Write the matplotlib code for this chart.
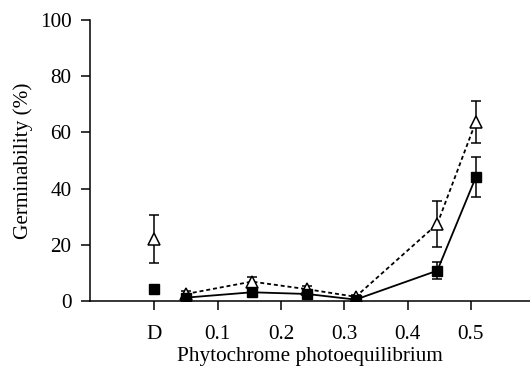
import matplotlib
matplotlib.use("Agg")
import matplotlib.pyplot as plt

plt.rcParams['font.family'] = ['Liberation Serif', 'DejaVu Serif']

# Data
dark_x = 0.0
dark_sq, dark_sq_err = 4.2, 0.0
dark_tri, dark_tri_err = 22.0, 8.5

pfr = [0.05, 0.154, 0.241, 0.318, 0.447, 0.508]
sq_vals = [1.2, 3.1, 2.5, 0.5, 10.8, 44.1]
sq_err = [0.5, 0.6, 1.2, 0.4, 3.0, 7.1]
tri_vals = [2.5, 6.9, 4.2, 1.5, 27.4, 63.8]
tri_err = [1.0, 1.8, 1.0, 0.6, 8.3, 7.5]

tick_pos = [0.0, 0.1, 0.2, 0.3, 0.4, 0.5]
tick_labels = ['D', '0.1', '0.2', '0.3', '0.4', '0.5']
y_ticks = [0, 20, 40, 60, 80, 100]

fig = plt.figure(figsize=(5.3, 3.66), dpi=100)
ax = fig.add_axes([0.17, 0.1776, 0.83, 0.7678])

# lines with error bars
ax.errorbar(pfr, tri_vals, yerr=tri_err, color='black', linestyle=(0, (2.2, 1.6)),
            linewidth=1.3, marker='^', markersize=8.5, markerfacecolor='white',
            markeredgecolor='black', markeredgewidth=1.1, capsize=3.5, elinewidth=1.1,
            capthick=1.1, zorder=2)
ax.errorbar(pfr, sq_vals, yerr=sq_err, color='black', linestyle='-', linewidth=1.3,
            marker='s', markersize=7, markerfacecolor='black', markeredgecolor='black',
            capsize=3.5, elinewidth=1.1, capthick=1.1, zorder=3)
ax.errorbar([dark_x], [dark_tri], yerr=[dark_tri_err], color='black', linestyle='none',
            marker='^', markersize=8.5, markerfacecolor='white', markeredgecolor='black',
            markeredgewidth=1.1, capsize=3.5, elinewidth=1.1, capthick=1.1)
ax.plot([dark_x], [dark_sq], linestyle='none', marker='s', markersize=7, color='black')

ax.set_xlim(-0.1016, 0.5935)
ax.set_ylim(0, 100)
ax.set_xticks(tick_pos)
ax.set_xticklabels(tick_labels)
ax.set_yticks(y_ticks)

for s in ['top', 'right']:
    ax.spines[s].set_visible(False)
for s in ['left', 'bottom']:
    ax.spines[s].set_linewidth(1.1)
ax.spines['bottom'].set_zorder(1)

ax.tick_params(axis='both', direction='out', length=6.5, width=1.1, labelsize=15.3)
ax.tick_params(axis='y', pad=7)
ax.tick_params(axis='x', pad=11)
ax.set_xlabel('Phytochrome photoequilibrium', fontsize=15.3, labelpad=2)
ax.set_ylabel('Germinability (%)', fontsize=15.3, labelpad=5)

fig.savefig('out.png', dpi=100)
